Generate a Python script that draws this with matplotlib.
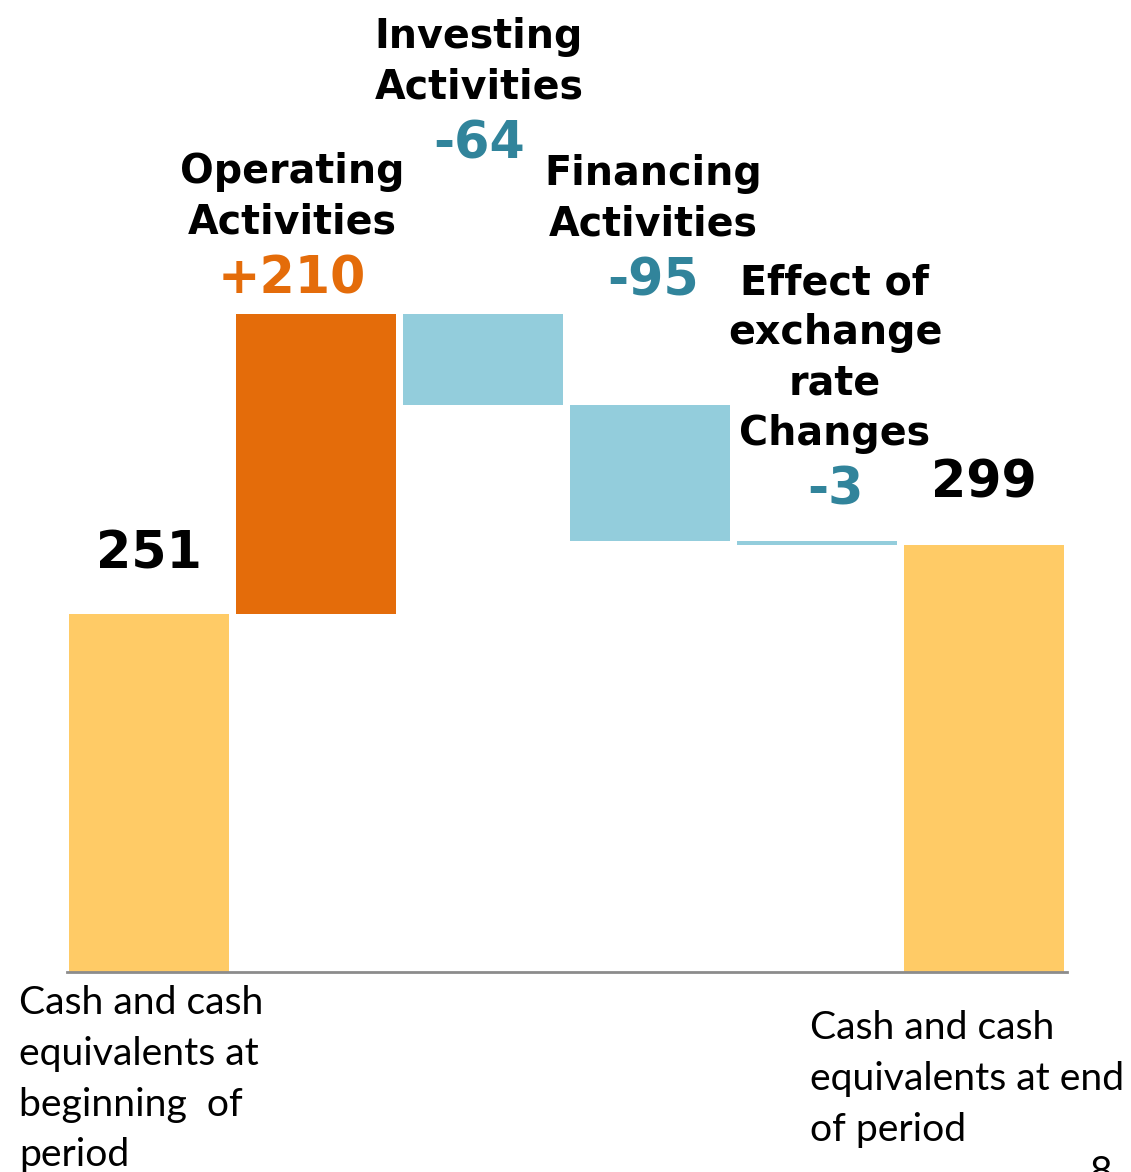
import numpy as np
import matplotlib
matplotlib.use('Agg')
import matplotlib.pyplot as plt

# 数据
categories = ["Cash and cash\nequivalents at\nbeginning  of\nperiod",
              "Operating\nActivities",
              "Investing\nActivities",
              "Financing\nActivities",
              "Effect of\nexchange\nrate\nChanges",
              "Cash and cash\nequivalents at end\nof period"]
start_value = 251
changes = [210, -64, -95, -3]
end_value = 299
value_labels = ["251", "+210", "-64", "-95", "-3", "299"]

# 颜色
c_total = '#FFCB66'
c_up = '#E46C0A'
c_down = '#93CDDC'
c_down_text = '#31849B'

# 瀑布图：计算每根柱子的底部和高度
levels = np.concatenate([[start_value], start_value + np.cumsum(changes)])
bottoms = [0]
heights = [start_value]
for i, d in enumerate(changes):
    lo = min(levels[i], levels[i + 1])
    bottoms.append(lo)
    heights.append(abs(d))
bottoms.append(0)
heights.append(end_value)
colors = [c_total] + [c_up if d > 0 else c_down for d in changes] + [c_total]
text_colors = ['black'] + [c_up if d > 0 else c_down_text for d in changes] + ['black']
tops = np.array(bottoms) + np.array(heights)

W, H = 1131, 1172
fig = plt.figure(figsize=(W / 100, H / 100), dpi=100)
ax = fig.add_axes([67 / W, 200 / H, 1000 / W, 972 / H])

x = np.arange(len(categories))
ax.bar(x, heights, bottom=bottoms, width=0.958, color=colors, linewidth=0)
ax.set_xlim(-0.491, 5.497)
ax.set_ylim(0, 680.7)

for s in ['top', 'left', 'right']:
    ax.spines[s].set_visible(False)
ax.spines['bottom'].set_color('#8C8C8C')
ax.spines['bottom'].set_linewidth(2)
ax.set_xticks([])
ax.set_yticks([])

# 数值标签和标题（像素偏移）
num_dy = [45, 20, 155, 110, 36, 48]
dx = [0, -24, -4, 3, 18, 0]
for i in range(len(categories)):
    ax.annotate(value_labels[i], xy=(x[i], tops[i]), xytext=(dx[i], num_dy[i]),
                textcoords='offset pixels', ha='center', va='baseline',
                fontsize=36.5, fontweight='bold', color=text_colors[i],
                family='DejaVu Sans', annotation_clip=False)
    if 1 <= i <= 4:
        ax.annotate(categories[i], xy=(x[i], tops[i]), xytext=(dx[i], num_dy[i] + 51),
                    textcoords='offset pixels', ha='center', va='bottom',
                    multialignment='center', linespacing=1.33,
                    fontsize=28.5, fontweight='bold', color='black',
                    family='DejaVu Sans', annotation_clip=False)

# 底部的类别说明
ax.annotate(categories[0], xy=(x[0], 0), xytext=(-130, -13),
            textcoords='offset pixels', ha='left', va='top', linespacing=1.51,
            fontsize=28.2, family='Lato', color='black', annotation_clip=False)
ax.annotate(categories[5], xy=(x[5], 0), xytext=(-174, -38),
            textcoords='offset pixels', ha='left', va='top', linespacing=1.51,
            fontsize=28.2, family='Lato', color='black', annotation_clip=False)

# 页码（原图中也被裁切）
fig.text(1100 / W, 17 / H, "8", ha='center', va='top', fontsize=28.2, family='Lato')

fig.savefig('out.png', dpi=100)
